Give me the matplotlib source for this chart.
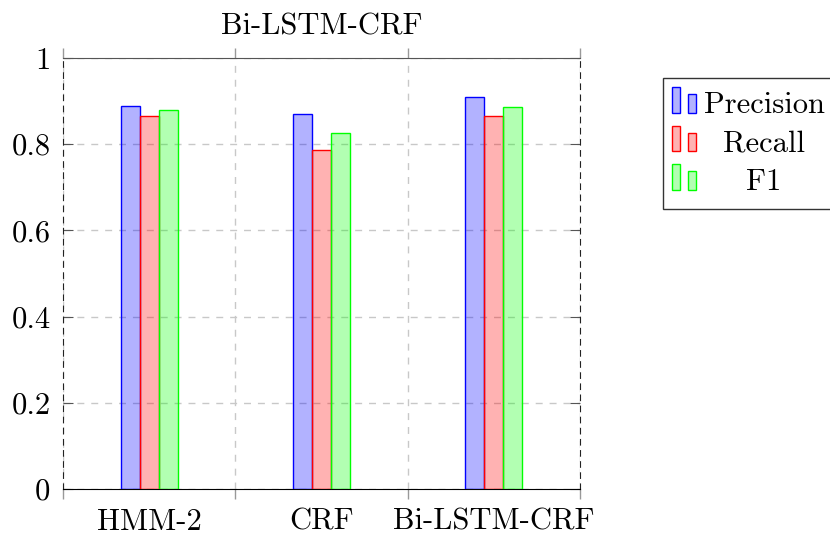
import matplotlib
matplotlib.use("Agg")
import matplotlib.pyplot as plt
import numpy as np
from matplotlib.legend_handler import HandlerBase
from matplotlib.patches import Rectangle

# Data
models = ["HMM-2", "CRF", "Bi-LSTM-CRF"]
precision = [0.889, 0.871, 0.909]
recall = [0.865, 0.787, 0.866]
f1 = [0.879, 0.827, 0.886]
series_names = ["Precision", "Recall", "F1"]
y_ticks = [0, 0.2, 0.4, 0.6, 0.8, 1]
y_tick_labels = ["0", "0.2", "0.4", "0.6", "0.8", "1"]

FS = 22
plt.rcParams["font.family"] = ["cmr10", "DejaVu Serif"]
plt.rcParams["mathtext.fontset"] = "cm"
plt.rcParams["axes.formatter.use_mathtext"] = True
plt.rcParams["font.size"] = FS

edge_colors = ["#0000ff", "#ff0000", "#00ff00"]
face_colors = [(0, 0, 1, 0.3), (1, 0, 0, 0.3), (0, 1, 0, 0.3)]


class TwoBarHandler(HandlerBase):
    # pgfplots style legend icon: two small bars
    def create_artists(self, legend, orig_handle, xdescent, ydescent,
                       width, height, fontsize, trans):
        fc = orig_handle.get_facecolor()
        ec = orig_handle.get_edgecolor()
        x0 = -xdescent - 2.9
        r1 = Rectangle((x0, -ydescent), 5.8, 18.5,
                       facecolor=fc, edgecolor=ec, lw=1.0, transform=trans)
        r2 = Rectangle((x0 + 11.5, -ydescent), 5.8, 13.5,
                       facecolor=fc, edgecolor=ec, lw=1.0, transform=trans)
        return [r1, r2]


fig = plt.figure(figsize=(8.3, 5.38), dpi=100)
ax = fig.add_axes([63 / 830, 1 - 489 / 538, 517 / 830, 431 / 538])

x = np.arange(len(models))
w = 0.11
handles = []
for i, vals in enumerate([precision, recall, f1]):
    b = ax.bar(x + (i - 1) * w, vals, width=w, facecolor=face_colors[i],
               edgecolor=edge_colors[i], linewidth=1.0, zorder=3,
               label=series_names[i])
    handles.append(b.patches[0])

ax.set_xlim(-0.5, 2.5)
ax.set_ylim(0, 1)

ax.set_xticks(x)
ax.set_xticklabels(models)
ax.set_xticks([-0.5, 0.5, 1.5, 2.5], minor=True)
ax.tick_params(axis="x", which="major", length=0, pad=14)
ax.tick_params(axis="x", which="minor", direction="out", length=7,
               color="#999999", top=True, bottom=True, width=1)

ax.set_yticks(y_ticks)
ax.set_yticklabels(y_tick_labels)
ax.tick_params(axis="y", direction="in", length=7, color="#555555",
               left=True, right=True, pad=9)

ax.grid(axis="y", which="major", color="#c8c8c8", linestyle=(0, (5, 5)), lw=1, zorder=0)
ax.grid(axis="x", which="minor", color="#c8c8c8", linestyle=(0, (5, 5)), lw=1, zorder=0)

ax.spines["bottom"].set_color("black")
ax.spines["top"].set_color("#555555")
for side in ["left", "right"]:
    ax.spines[side].set_color("#222222")
    ax.spines[side].set_linestyle((0, (5, 5)))
ax.set_axisbelow(True)

ax.set_title("Bi-LSTM-CRF", pad=17, fontsize=FS)

leg = fig.legend(handles, series_names, loc="upper left",
                 bbox_to_anchor=(663 / 830, 1 - 78 / 538),
                 bbox_transform=fig.transFigure, borderaxespad=0,
                 handler_map={Rectangle: TwoBarHandler()},
                 handlelength=0.67, handletextpad=0.23, borderpad=0.43,
                 labelspacing=0.37, fancybox=False, framealpha=1,
                 edgecolor="#333333", fontsize=FS)
leg.get_frame().set_linewidth(1.0)

# centre the labels inside the legend column, as pgfplots does
fig.canvas.draw()
texts = leg.get_texts()
renderer = fig.canvas.get_renderer()
lefts, rights, anchors = [], [], []
for t in texts:
    bb = t.get_window_extent(renderer)
    lefts.append(bb.x0)
    rights.append(bb.x1)
    anchors.append(t.get_transform().transform(t.get_position()))
centre = (min(lefts) + max(rights)) / 2
inv = fig.transFigure.inverted()
for t, anc in zip(texts, anchors):
    fx, fy = inv.transform((centre, anc[1]))
    fig.text(fx, fy, t.get_text(), ha="center", va="baseline",
             fontsize=FS, zorder=10)
    t.set_alpha(0)

fig.savefig("out.png", dpi=100)
